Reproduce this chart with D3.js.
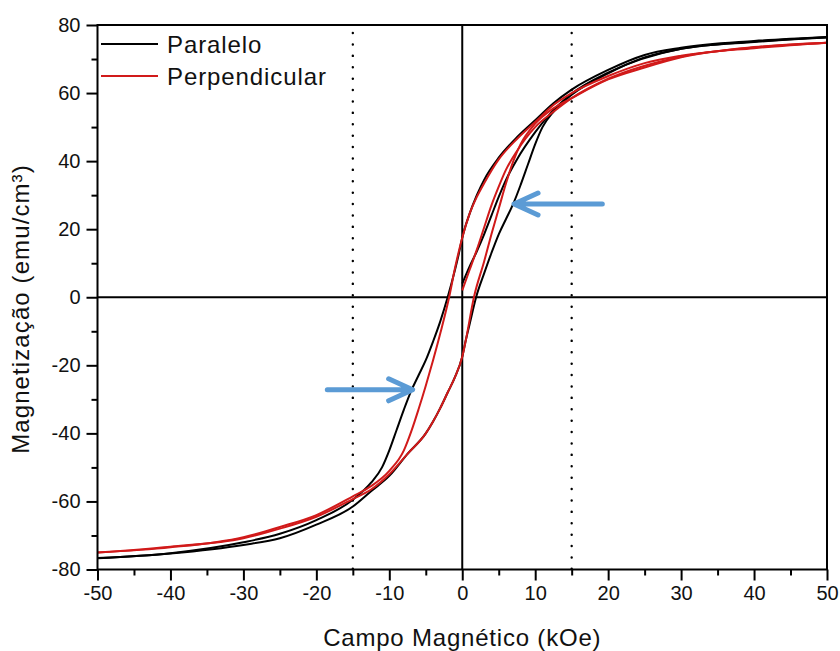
<!DOCTYPE html>
<html>
<head>
<meta charset="utf-8">
<script src="https://cdn.jsdelivr.net/npm/d3@7"></script>
<style>
  body { margin: 0; background: #fff; }
  text { font-family: "Liberation Sans", Arial, sans-serif; fill: #111; }
</style>
</head>
<body>
<div class="chart"></div>
<script>
// Paralelo (black): branches, field in kOe, M in emu/cm3
var parVirgemH = [0, 1, 2, 3, 4, 5, 6, 7.5, 10, 12.5, 15, 20, 30, 40, 50];
var parVirgemM = [4, 9, 13.5, 18.5, 24, 29.5, 34.5, 40.5, 48.5, 55, 59.8, 66, 73, 75.1, 76.4];

var parDescH = [-50, -40, -30, -25, -20, -15, -12.5, -11, -10, -9, -8, -7, -6, -5, -4, -3, -2, -1, -0.5, 0, 1, 2, 3, 5, 7.5, 10, 12.5, 15, 20, 25, 30, 40, 50];
var parDescM = [-76.6, -75.2, -72, -69.5, -65.5, -59.5, -54.5, -50, -45, -39, -33, -27.5, -23, -18.5, -13, -7, 0, 8, 12.5, 17.5, 24.5, 30, 34.5, 41, 47, 52, 57, 61, 66.8, 71.2, 73.3, 75.3, 76.5];

var parAscH = [-50, -40, -30, -25, -20, -15, -12.5, -10, -7.5, -5, -4, -3, -2, -1, 0, 0.5, 1, 1.9, 3, 4, 5, 6, 7, 8, 9, 10, 11, 12.5, 15, 20, 25, 30, 40, 50];
var parAscM = [-76.7, -75.3, -72.8, -70.8, -66.8, -61.5, -57, -52.5, -46, -40, -36.5, -32.5, -28, -23.5, -17.5, -12.5, -8, 0, 7, 13, 18.5, 23, 27.5, 33, 39, 45, 50, 54.5, 59.5, 65.8, 70.5, 73, 75, 76.3];

// Perpendicular (red)
var perVirgemH = [0, 1, 2, 3, 4, 5, 6, 7.5, 10, 12.5, 15, 20, 30, 40, 50];
var perVirgemM = [2, 8, 14, 20.5, 27, 32.5, 37.5, 43, 50, 54.5, 58.5, 64.2, 70.7, 73.4, 74.8];

var perDescH = [-50, -40, -30, -25, -20, -15, -12.5, -10, -8, -7, -6, -5, -4, -3, -1.8, -1, 0, 1, 2, 3, 5, 7.5, 10, 12.5, 15, 20, 25, 30, 40, 50];
var perDescM = [-75, -73.5, -70.5, -67.5, -64, -58.5, -55.5, -51, -45, -39.5, -33, -26, -18.5, -10.5, 0, 8.5, 17.5, 24.5, 29.5, 33.5, 40.5, 46.5, 51.5, 56.5, 60, 65, 68.8, 71, 73.2, 74.8];

var perAscH = [-50, -40, -30, -25, -20, -15, -12.5, -10, -7.5, -5, -4, -3, -2, -1, 0, 0.5, 1.6, 3, 4, 5, 6, 7, 8, 10, 12.5, 15, 20, 25, 30, 40, 50];
var perAscM = [-75, -73.3, -70.8, -68, -64.5, -59.3, -56.5, -52, -46, -40, -36.5, -32.5, -28, -23.5, -17.5, -12.5, 0, 10.5, 18.5, 26, 33.5, 40, 45, 51, 55.5, 58.5, 64, 67.5, 70.5, 73.5, 74.8];

var xTicks = [-50, -40, -30, -20, -10, 0, 10, 20, 30, 40, 50];
var yTicks = [-80, -60, -40, -20, 0, 20, 40, 60, 80];
var dottedH = [-15, 15];

// blue arrows: [tailH, tipH, M]
var arrows = [[19.2, 7.1, 27.4], [-18.5, -6.8, -27.2]];

var legendNames = ['Paralelo', 'Perpendicular'];
var legendColors = ['#000', '#d11a1a'];

var svg = d3.select(".chart")
    .append("svg")
    .attr("width", 840)
    .attr("height", 651)

var x = d3.scaleLinear().domain([-50, 50]).range([97.5, 827]);
var y = d3.scaleLinear().domain([-80, 80]).range([569.5, 25]);

function zip(hs, ms) {
    return hs.map(function (h, i) { return [h, ms[i]]; });
}

var line = d3.line()
    .x(function (d) { return x(d[0]); })
    .y(function (d) { return y(d[1]); })
    .curve(d3.curveMonotoneX);

// zero lines
svg.append("line")
    .attr("x1", x(0)).attr("x2", x(0))
    .attr("y1", y(80)).attr("y2", y(-80))
    .attr("stroke", "#000").attr("stroke-width", 2)
svg.append("line")
    .attr("x1", x(-50)).attr("x2", x(50))
    .attr("y1", y(0)).attr("y2", y(0))
    .attr("stroke", "#000").attr("stroke-width", 2)

// dotted guides
svg.selectAll(".dot-guide")
    .data(dottedH)
    .enter()
    .append("line")
    .attr("x1", function (d) { return x(d); })
    .attr("x2", function (d) { return x(d); })
    .attr("y1", y(80) + 8).attr("y2", y(-80))
    .attr("stroke", "#000")
    .attr("stroke-width", 2.4)
    .attr("stroke-linecap", "round")
    .attr("stroke-dasharray", "0.1 11.3")

var black = [zip(parVirgemH, parVirgemM), zip(parDescH, parDescM), zip(parAscH, parAscM)];
var red = [zip(perVirgemH, perVirgemM), zip(perDescH, perDescM), zip(perAscH, perAscM)];

svg.selectAll(".par")
    .data(black)
    .enter()
    .append("path")
    .attr("fill", "none")
    .attr("stroke", legendColors[0])
    .attr("stroke-width", 2)
    .attr("d", line)

svg.selectAll(".per")
    .data(red)
    .enter()
    .append("path")
    .attr("fill", "none")
    .attr("stroke", legendColors[1])
    .attr("stroke-width", 2)
    .attr("d", line)

// arrows
var arrowColor = '#5b9bd5';
arrows.forEach(function (a) {
    var tx = x(a[1]), ty = y(a[2]), sx = x(a[0]);
    var dir = sx > tx ? 1 : -1;
    svg.append("path")
        .attr("d", "M" + sx + "," + ty + "L" + (tx + dir * 2) + "," + ty +
            "M" + (tx + dir * 24) + "," + (ty - 11) + "L" + tx + "," + ty + "L" + (tx + dir * 24) + "," + (ty + 11))
        .attr("fill", "none")
        .attr("stroke", arrowColor)
        .attr("stroke-width", 5)
        .attr("stroke-linecap", "round")
        .attr("stroke-linejoin", "round")
})

// frame
svg.append("rect")
    .attr("x", x(-50)).attr("y", y(80))
    .attr("width", x(50) - x(-50)).attr("height", y(-80) - y(80))
    .attr("fill", "none").attr("stroke", "#000").attr("stroke-width", 2)

// axes
var fmt = function (d) { return String(d); };
svg.append("g")
    .attr("transform", "translate(0," + y(-80) + ")")
    .call(d3.axisBottom(x).tickValues(xTicks).tickSize(11).tickPadding(5).tickFormat(fmt))
svg.append("g")
    .attr("transform", "translate(0," + y(-80) + ")")
    .call(d3.axisBottom(x).tickValues(d3.range(-45, 50, 10)).tickSize(6).tickFormat(""))
svg.append("g")
    .attr("transform", "translate(" + x(-50) + ",0)")
    .call(d3.axisLeft(y).tickValues(yTicks).tickSize(11).tickPadding(6).tickFormat(fmt))
svg.append("g")
    .attr("transform", "translate(" + x(-50) + ",0)")
    .call(d3.axisLeft(y).tickValues(d3.range(-70, 80, 20)).tickSize(6).tickFormat(""))

svg.selectAll(".domain").remove()
svg.selectAll(".tick line").attr("stroke", "#000").attr("stroke-width", 2)
svg.selectAll(".tick text")
    .style("font-size", "20px")
    .attr("font-family", "Liberation Sans, Arial, sans-serif")
    .attr("fill", "#111")

svg.append('text')
    .attr('x', x(0))
    .attr('y', 646)
    .attr('text-anchor', 'middle')
    .style('font-size', '24px')
    .style('letter-spacing', '0.8px')
    .text('Campo Magnético (kOe)')

svg.append('text')
    .attr('transform', 'translate(29,309) rotate(-90)')
    .attr('text-anchor', 'middle')
    .style('font-size', '24px')
    .style('letter-spacing', '1.1px')
    .text('Magnetização (emu/cm³)')

// legend
legendNames.forEach(function (n, i) {
    var ly = 44 + i * 32;
    svg.append("line")
        .attr("x1", 101).attr("x2", 158)
        .attr("y1", ly).attr("y2", ly)
        .attr("stroke", legendColors[i]).attr("stroke-width", 2)
    svg.append("text")
        .attr("x", 167).attr("y", ly + 8.5)
        .style("font-size", "24px")
        .style("letter-spacing", "0.9px")
        .text(n)
})
</script>
</body>
</html>
